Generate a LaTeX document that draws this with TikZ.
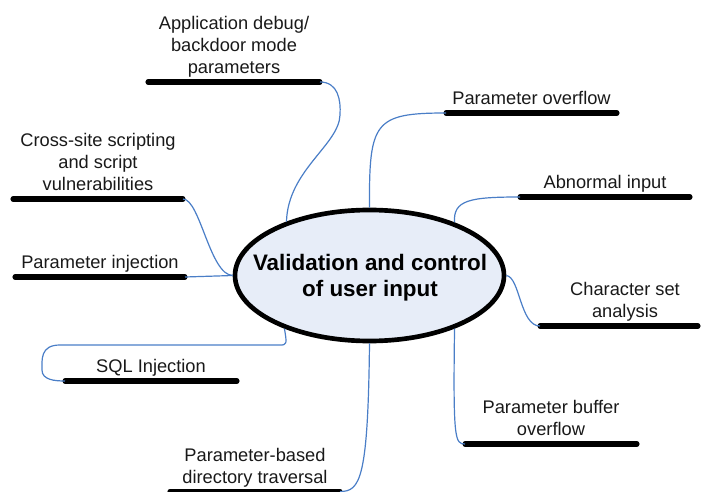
\documentclass[tikz,border=0pt]{standalone}
\usepackage{fontspec}
\setmainfont{Liberation Sans}
\usetikzlibrary{shapes.geometric}
\definecolor{connc}{RGB}{74,126,199}
\definecolor{efill}{RGB}{231,237,248}
\begin{document}
\begin{tikzpicture}[x=0.75pt,y=-0.75pt,
  uline/.style={line width=3.8pt, line cap=round},
  conn/.style={draw=connc, line width=0.9pt},
  lbl/.style={anchor=south, inner sep=0pt, text depth=0pt, align=center,
    font=\fontsize{13.7}{16.5}\selectfont, text=black!90}]
\useasboundingbox (0,0) rectangle (701,492);

% central ellipse
\node[ellipse, draw, line width=3.5pt, fill=efill, minimum width=201.75pt,
  minimum height=98.25pt, inner sep=0pt] (c) at (369.5,275.5) {};
\node[anchor=south, inner sep=0pt, text depth=0pt, align=center,
  font=\fontsize{16.8}{19.5}\selectfont\bfseries] (ct) at (370,297)
  {Validation and control\\of user input};

% Application debug
\coordinate (dL) at (148,82); \coordinate (dR) at (320,82);
\draw[uline] (dL) -- (dR);
\node[lbl] (dT) at (234,73.5) {Application debug/\\backdoor mode\\parameters};
\draw[conn] (dR) .. controls (338,82) and (341,100) .. (340,115)
  .. controls (339,145) and (288,170) .. (c.147);

% Parameter overflow
\coordinate (oL) at (446,113); \coordinate (oR) at (617,113);
\draw[uline] (oL) -- (oR);
\node[lbl] (oT) at (531.5,105) {Parameter overflow};
\draw[conn] (c.90) .. controls (369,122) and (374,113) .. (oL);

% Abnormal input
\coordinate (aL) at (520,197); \coordinate (aR) at (690,197);
\draw[uline] (aL) -- (aR);
\node[lbl] (aT) at (605,189) {Abnormal input};
\draw[conn] (aL) .. controls (470,197) and (453,200) .. (c.32);

% Character set analysis
\coordinate (chL) at (540,326); \coordinate (chR) at (698,326);
\draw[uline] (chL) -- (chR);
\node[lbl] (chT) at (625,317.5) {Character set\\analysis};
\draw[conn] (c.0) .. controls (520,277) and (520,326) .. (chL);

% Parameter buffer overflow
\coordinate (bL) at (465,444); \coordinate (bR) at (637,444);
\draw[uline] (bL) -- (bR);
\node[lbl] (bT) at (551,435.5) {Parameter buffer\\overflow};
\draw[conn] (c.-32) .. controls (453,440) and (455,444) .. (bL);

% Parameter-based directory traversal
\coordinate (tL) at (170,491.5); \coordinate (tR) at (340,491.5);
\draw[uline] (tL) -- (tR);
\node[lbl] (tT) at (255,484) {Parameter-based\\directory traversal};
\draw[conn] (c.270) .. controls (368,480) and (360,491.5) .. (tR);

% SQL Injection
\coordinate (sL) at (65,381); \coordinate (sR) at (237,381);
\draw[uline] (sL) -- (sR);
\node[lbl] (sT) at (151,372.5) {SQL Injection};
\draw[conn] (c.212) .. controls (287,344) and (287,345) .. (280,345)
  -- (60,345) .. controls (40,345) and (42,360) .. (42,370)
  .. controls (42,380) and (55,381) .. (sL);

% Parameter injection
\coordinate (pL) at (15,277); \coordinate (pR) at (185,277);
\draw[uline] (pL) -- (pR);
\node[lbl] (pT) at (100,268.5) {Parameter injection};
\draw[conn] (pR) -- (c.180);

% Cross-site scripting
\coordinate (xL) at (13,199); \coordinate (xR) at (183,199);
\draw[uline] (xL) -- (xR);
\node[lbl] (xT) at (98,190.5) {Cross-site scripting\\and script\\vulnerabilities};
\draw[conn] (xR) .. controls (200,199) and (210,275) .. (c.180);
\end{tikzpicture}
\end{document}
